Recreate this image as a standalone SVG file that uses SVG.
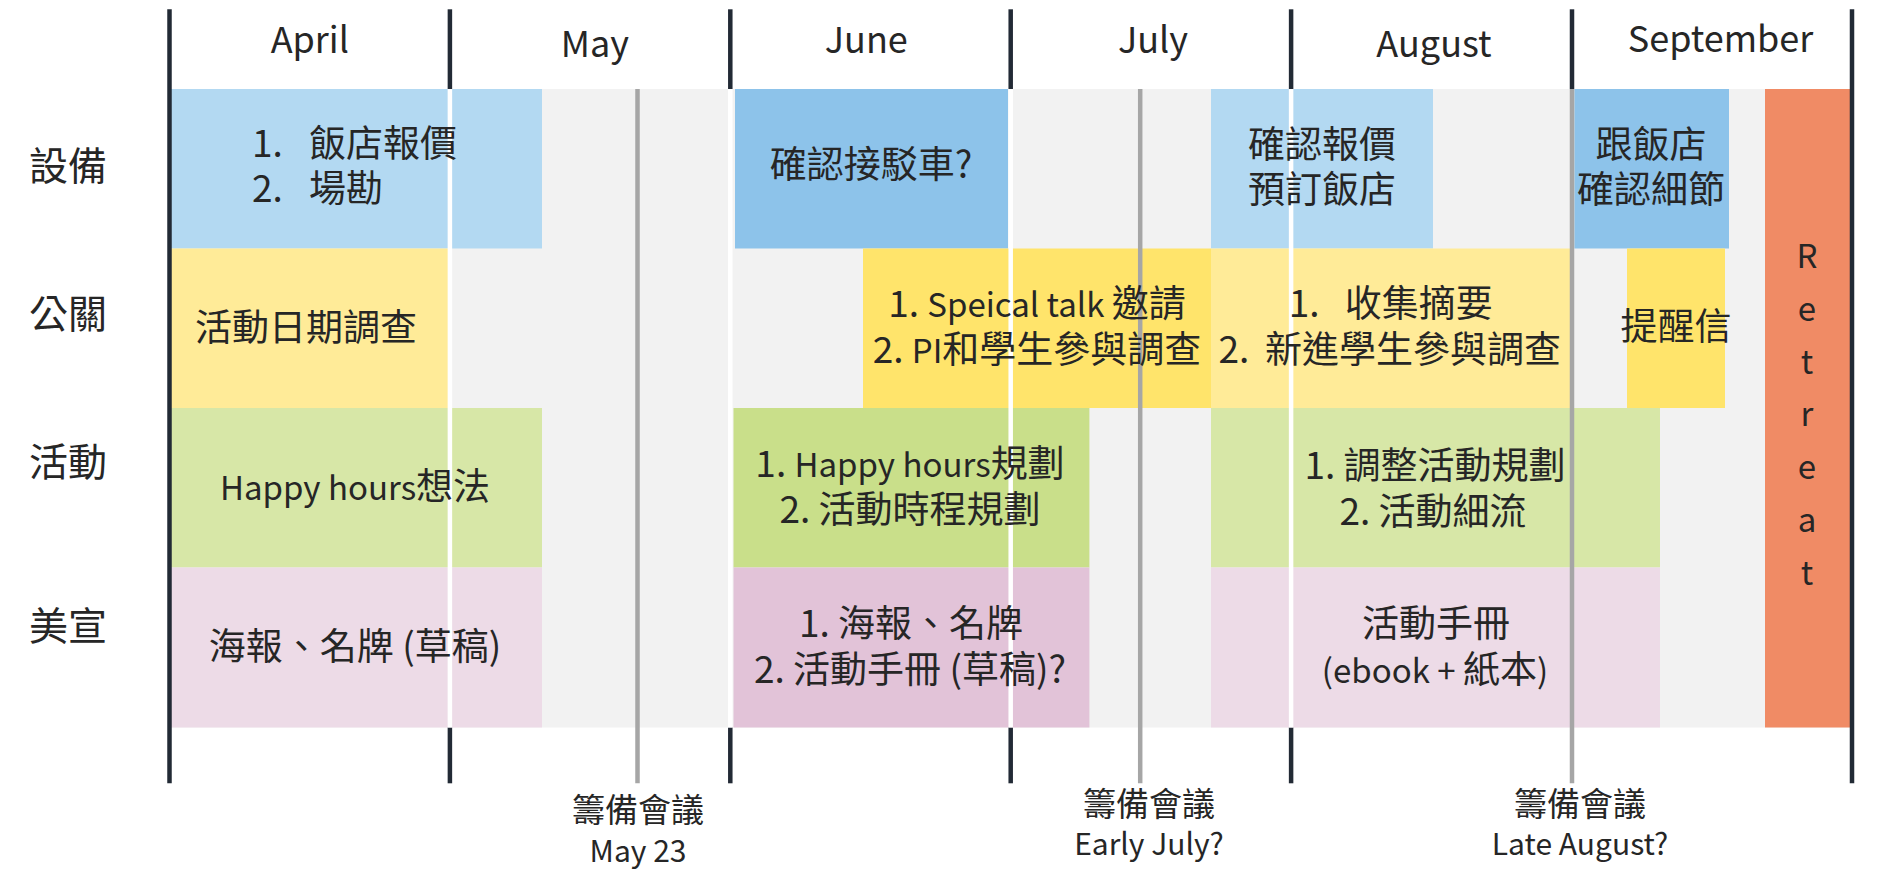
<svg xmlns="http://www.w3.org/2000/svg" width="1877" height="891" viewBox="0 0 1877 891">
<style>
text{font-family:"Noto Sans CJK TC","Noto Sans",sans-serif;fill:#262626}
.m{font-size:36px;text-anchor:middle}
.r{font-size:39px;text-anchor:middle}
.b{font-size:37px}
.c{text-anchor:middle}
.t{font-size:33px;text-anchor:middle}
.lt{font-size:33px}
.ml{font-size:30px}
.dark{stroke:#222a35;stroke-width:4.5}
.wht{stroke:#ffffff;stroke-width:4.5}
.gry{stroke:#a6a6a6;stroke-width:4.5}
.lb{fill:#b3d9f2}.mb{fill:#8dc3ea}
.ly{fill:#ffeb98}.my{fill:#ffe46b}
.lg{fill:#d7e7a7}.mg{fill:#c9df8a}
.lp{fill:#eddbe7}.mp{fill:#e2c3d8}
.or{fill:#f08b65}
</style>
<rect x="169.5" y="89" width="1682.5" height="638.5" fill="#f2f2f2"/>
<g id="headers">
<text class="m" x="309.8" y="53">April</text>
<text class="m" x="595" y="56.5">May</text>
<text class="m" x="866.3" y="53">June</text>
<text class="m" x="1153" y="53">July</text>
<text class="m" x="1434" y="56.5">August</text>
<text class="m" x="1720.5" y="52">September</text>
</g>
<g id="row-labels">
<text class="r" x="68" y="179.5">設備</text>
<text class="r" x="68" y="328">公關</text>
<text class="r" x="68" y="475.5">活動</text>
<text class="r" x="68" y="640">美宣</text>
</g>
<g id="task-boxes">
<rect class="lb" x="169.5" y="89" width="372.5" height="159.5"/>
<rect class="mb" x="735" y="89" width="273" height="159.5"/>
<rect class="lb" x="1211" y="89" width="222" height="159.5"/>
<rect class="mb" x="1574.4" y="89" width="154.6" height="159.5"/>
<rect class="ly" x="169.5" y="248.5" width="280.4" height="159.5"/>
<rect class="my" x="863" y="248.5" width="348" height="159.5"/>
<rect class="ly" x="1211" y="248.5" width="359" height="159.5"/>
<rect class="my" x="1627" y="248.5" width="98" height="159.5"/>
<rect class="lg" x="169.5" y="408" width="372.5" height="159.5"/>
<rect class="mg" x="733.5" y="408" width="355.9" height="159.5"/>
<rect class="lg" x="1211" y="408" width="449" height="159.5"/>
<rect class="lp" x="169.5" y="567.5" width="372.5" height="160"/>
<rect class="mp" x="733.5" y="567.5" width="355.9" height="160"/>
<rect class="lp" x="1211" y="567.5" width="449" height="160"/>
<rect class="or" x="1765" y="89" width="85" height="638.5"/>
</g>
<g id="grid">
<line class="dark" x1="169.5" y1="9.3" x2="169.5" y2="783.3"/>
<line class="dark" x1="1852" y1="9.3" x2="1852" y2="783.3"/>
<line class="dark" x1="449.9" y1="9.3" x2="449.9" y2="89"/>
<line class="dark" x1="730.3" y1="9.3" x2="730.3" y2="89"/>
<line class="dark" x1="1010.7" y1="9.3" x2="1010.7" y2="89"/>
<line class="dark" x1="1291.1" y1="9.3" x2="1291.1" y2="89"/>
<line class="dark" x1="1572" y1="9.3" x2="1572" y2="89"/>
<line class="dark" x1="449.9" y1="727.5" x2="449.9" y2="783.3"/>
<line class="dark" x1="730.3" y1="727.5" x2="730.3" y2="783.3"/>
<line class="dark" x1="1010.7" y1="727.5" x2="1010.7" y2="783.3"/>
<line class="dark" x1="1291.1" y1="727.5" x2="1291.1" y2="783.3"/>
<line class="wht" x1="449.9" y1="89" x2="449.9" y2="727.5"/>
<line class="wht" x1="730.3" y1="89" x2="730.3" y2="727.5"/>
<line class="wht" x1="1010.7" y1="89" x2="1010.7" y2="727.5"/>
<line class="wht" x1="1291.1" y1="89" x2="1291.1" y2="727.5"/>
</g>
<g id="connectors">
<line class="gry" x1="637.5" y1="89" x2="637.5" y2="783.3"/>
<line class="gry" x1="1140.2" y1="89" x2="1140.2" y2="783.3"/>
<line class="gry" x1="1572" y1="89" x2="1572" y2="783.3"/>
</g>
<g id="task-labels">
<text class="b"><tspan x="252" y="157">1.</tspan><tspan x="309" y="157">飯店報價</tspan></text>
<text class="b"><tspan x="252" y="202">2.</tspan><tspan x="309" y="202">場勘</tspan></text>
<text class="b c" x="871" y="178">確認接駁車?</text>
<text class="b c" x="1322" y="158">確認報價</text>
<text class="b c" x="1322" y="203">預訂飯店</text>
<text class="b c" x="1651" y="157.5">跟飯店</text>
<text class="b c" x="1651" y="203">確認細節</text>
<text class="b c" x="306" y="340.5">活動日期調查</text>
<text class="b c" x="1037" y="317">1. <tspan class="lt">Speical talk </tspan>邀請</text>
<text class="b c" x="1037" y="363">2. <tspan class="lt">PI</tspan>和學生參與調查</text>
<text class="b"><tspan x="1288.8" y="317">1.</tspan><tspan x="1344.8" y="317">收集摘要</tspan></text>
<text class="b"><tspan x="1218.5" y="363">2.</tspan><tspan x="1265" y="363">新進學生參與調查</tspan></text>
<text class="b c" x="1676" y="340">提醒信</text>
<text class="b c" x="355" y="500"><tspan class="lt">Happy hours</tspan>想法</text>
<text class="b c" x="910" y="477">1. <tspan class="lt">Happy hours</tspan>規劃</text>
<text class="b c" x="910" y="523">2. 活動時程規劃</text>
<text class="b c" x="1435" y="479">1. 調整活動規劃</text>
<text class="b c" x="1433" y="525">2. 活動細流</text>
<text class="b c" x="355" y="659.5">海報、名牌 (草稿)</text>
<text class="b c" x="911" y="637">1. 海報、名牌</text>
<text class="b c" x="910" y="683">2. 活動手冊 (草稿)?</text>
<text class="b c" x="1436" y="637">活動手冊</text>
<text class="b c" x="1435" y="683"><tspan class="lt">(ebook + </tspan>紙本<tspan class="lt">)</tspan></text>
</g>
<g id="retreat">
<text class="t"><tspan x="1807" y="268">R</tspan><tspan x="1807" y="320.8">e</tspan><tspan x="1807" y="373.6">t</tspan><tspan x="1807" y="426.4">r</tspan><tspan x="1807" y="479.2">e</tspan><tspan x="1807" y="532">a</tspan><tspan x="1807" y="584.8">t</tspan></text>
</g>
<g id="meetings">
<text class="t" x="638" y="821.5">籌備會議</text>
<text class="t ml" x="638" y="862">May 23</text>
<text class="t" x="1149" y="815.5">籌備會議</text>
<text class="t ml" x="1149" y="855">Early July?</text>
<text class="t" x="1580" y="815.5">籌備會議</text>
<text class="t ml" x="1580" y="855">Late August?</text>
</g>
</svg>
